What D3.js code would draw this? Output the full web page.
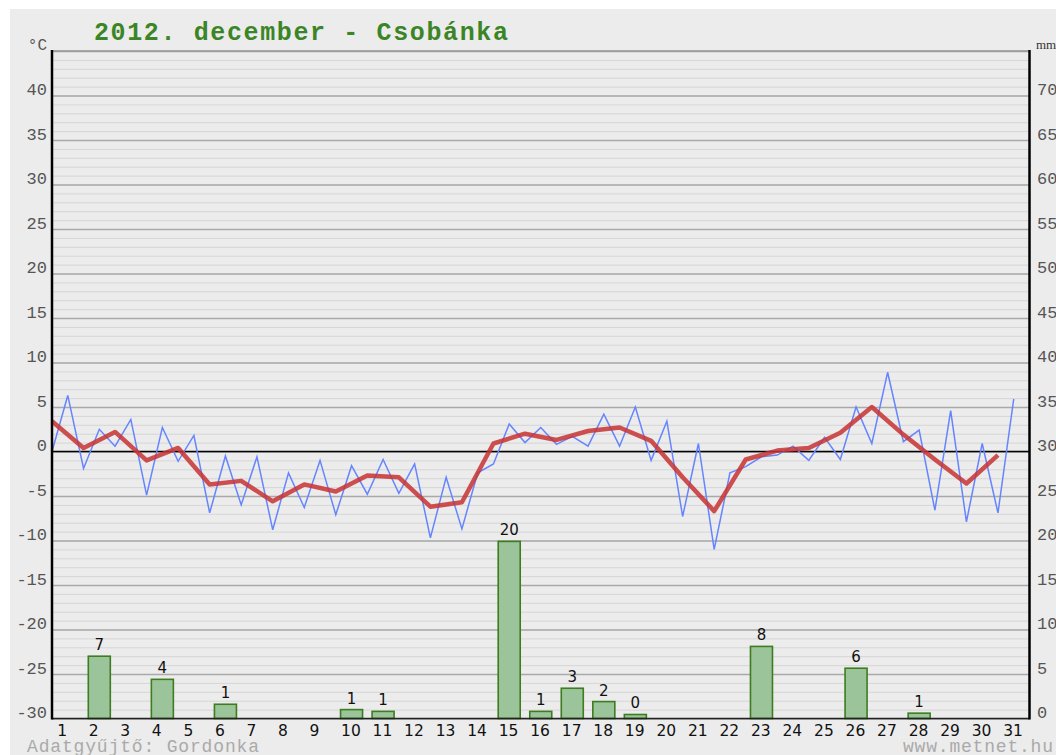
<!DOCTYPE html>
<html>
<head>
<meta charset="utf-8">
<script src="https://cdn.jsdelivr.net/npm/d3@7/dist/d3.min.js"></script>
<style>
  html, body { margin: 0; padding: 0; background: #fff; }
  svg { display: block; }
</style>
</head>
<body>
<svg id="chart" width="1056" height="755"></svg>
<script>
// day numbers
var days = d3.range(1, 32);

// two readings per day (blue line)
var readings = [
  0.0, 6.3, -1.9, 2.5, 0.6, 3.6, -4.9, 2.7, -1.1, 1.8,
  -6.9, -0.5, -6.0, -0.6, -8.8, -2.4, -6.3, -1.0, -7.1, -1.6,
  -4.8, -0.9, -4.7, -1.4, -9.7, -2.9, -8.7, -2.4, -1.4, 3.1,
  1.0, 2.7, 0.8, 1.7, 0.6, 4.2, 0.6, 5.0, -1.0, 3.4,
  -7.3, 0.9, -11.0, -2.4, -1.7, -0.6, -0.4, 0.6, -1.0, 1.6,
  -0.9, 5.0, 0.9, 8.9, 1.1, 2.4, -6.6, 4.6, -7.9, 0.9,
  -6.9, 5.9
];

// daily mean (red line)
var dailyMean = [
  3.4, 0.4, 2.2, -1.0, 0.4, -3.7, -3.3, -5.6, -3.7, -4.5,
  -2.7, -2.9, -6.2, -5.7, 0.9, 2.0, 1.3, 2.3, 2.7, 1.2,
  -2.9, -6.7, -0.9, 0.1, 0.4, 2.1, 5.0, 1.9, -0.9, -3.6,
  -0.4
];

// precipitation (mm)
var rainDays   = [2, 4, 6, 10, 11, 15, 16, 17, 18, 19, 23, 26, 28];
var rainMm     = [7.0, 4.4, 1.6, 1.0, 0.8, 19.9, 0.8, 3.4, 1.9, 0.45, 8.1, 5.65, 0.6];
var rainLabels = ['7', '4', '1', '1', '1', '20', '1', '3', '2', '0', '8', '6', '1'];

var tempTicks = d3.range(-30, 41, 5);
var mmTicks = d3.range(0, 71, 5);

(function() {

  var W = 1056, H = 755;
  var plotL = 52, plotR = 1029.5, plotT = 51, plotB = 718.5;

  var svg = d3.select('#chart');

  // panel
  svg.append('rect')
    .attr('x', 10).attr('y', 9)
    .attr('width', W - 10).attr('height', H - 9)
    .attr('fill', '#ececec');

  var x = d3.scaleLinear().domain([0, 31]).range([plotL, plotR]);
  var yT = d3.scaleLinear().domain([-30, 45]).range([plotB, plotT]);
  var yP = d3.scaleLinear().domain([0, 75]).range([plotB, plotT]);

  // minor grid, every degree
  svg.append('g')
    .attr('transform', 'translate(' + plotL + ',0)')
    .call(d3.axisLeft(yT).tickValues(d3.range(-30, 46, 1)).tickSize(-(plotR - plotL)).tickFormat(''))
    .call(function(g) {
      g.select('.domain').remove();
      g.selectAll('line').attr('stroke', '#d6d6d6').attr('stroke-width', 1);
    });

  // major grid, every 5 degrees
  svg.append('g')
    .attr('transform', 'translate(' + plotL + ',0)')
    .call(d3.axisLeft(yT).tickValues(d3.range(-30, 46, 5)).tickSize(-(plotR - plotL)).tickFormat(''))
    .call(function(g) {
      g.select('.domain').remove();
      g.selectAll('line').attr('stroke', '#a9a9a9').attr('stroke-width', 1.6);
    });

  // zero line
  svg.append('line')
    .attr('x1', plotL).attr('x2', plotR)
    .attr('y1', yT(0)).attr('y2', yT(0))
    .attr('stroke', '#000').attr('stroke-width', 1.6);

  // left temperature labels
  svg.append('g')
    .selectAll('text')
    .data(tempTicks)
    .join('text')
    .attr('x', 47)
    .attr('y', function(d) { return yT(d) - 0.5; })
    .attr('text-anchor', 'end')
    .attr('font-family', 'Liberation Mono, monospace')
    .attr('font-size', 17)
    .attr('fill', '#555')
    .text(function(d) { return d; });

  // right precipitation labels
  svg.append('g')
    .selectAll('text')
    .data(mmTicks)
    .join('text')
    .attr('x', 1037)
    .attr('y', function(d) { return yP(d) - 0.5; })
    .attr('font-family', 'Liberation Mono, monospace')
    .attr('font-size', 17)
    .attr('fill', '#555')
    .text(function(d) { return d; });

  // bars
  var bars = svg.append('g');
  bars.selectAll('rect')
    .data(rainDays)
    .join('rect')
    .attr('x', function(d) { return x(d - 0.5) - 11; })
    .attr('y', function(d, i) { return yP(rainMm[i]); })
    .attr('width', 22)
    .attr('height', function(d, i) { return plotB - yP(rainMm[i]); })
    .attr('fill', '#9bc49b')
    .attr('stroke', '#3d7d1f')
    .attr('stroke-width', 1.6);

  bars.selectAll('text')
    .data(rainDays)
    .join('text')
    .attr('x', function(d) { return x(d - 0.5); })
    .attr('y', function(d, i) { return yP(rainMm[i]) - 6; })
    .attr('text-anchor', 'middle')
    .attr('font-family', 'DejaVu Sans, sans-serif')
    .attr('font-size', 15)
    .attr('fill', '#111')
    .text(function(d, i) { return rainLabels[i]; });

  // readings line
  svg.append('path')
    .datum(readings)
    .attr('fill', 'none')
    .attr('stroke', '#6585ff')
    .attr('stroke-width', 1.5)
    .attr('d', d3.line()
      .x(function(d, i) { return x(i / 2); })
      .y(function(d) { return yT(d); }));

  // daily mean line
  svg.append('path')
    .datum(dailyMean)
    .attr('fill', 'none')
    .attr('stroke', '#c83232')
    .attr('stroke-opacity', 0.85)
    .attr('stroke-width', 4.5)
    .attr('stroke-linejoin', 'round')
    .attr('d', d3.line()
      .x(function(d, i) { return x(i); })
      .y(function(d) { return yT(d); }));

  // frame: top border, axes
  svg.append('line')
    .attr('x1', plotL).attr('x2', plotR)
    .attr('y1', plotT).attr('y2', plotT)
    .attr('stroke', '#999').attr('stroke-width', 1.5);
  svg.append('line')
    .attr('x1', plotL).attr('x2', plotR)
    .attr('y1', plotB).attr('y2', plotB)
    .attr('stroke', '#222').attr('stroke-width', 1.6);
  svg.append('line')
    .attr('x1', plotL).attr('x2', plotL)
    .attr('y1', plotT - 1).attr('y2', plotB + 1)
    .attr('stroke', '#000').attr('stroke-width', 2.5);
  svg.append('line')
    .attr('x1', plotR).attr('x2', plotR)
    .attr('y1', plotT - 1).attr('y2', plotB + 1)
    .attr('stroke', '#000').attr('stroke-width', 2.5);

  // day labels
  svg.append('g')
    .selectAll('text')
    .data(days)
    .join('text')
    .attr('x', function(d) { return x(d - 0.5) - 10.5; })
    .attr('y', 735.5)
    .attr('font-family', 'DejaVu Sans, sans-serif')
    .attr('font-size', 15.5)
    .attr('fill', '#111')
    .text(function(d) { return d; });

  // title and unit labels
  svg.append('text')
    .attr('x', 94).attr('y', 39.5)
    .attr('font-family', 'Liberation Mono, monospace')
    .attr('font-weight', 'bold')
    .attr('font-size', 25)
    .attr('fill', '#3b8526')
    .attr('textLength', 414)
    .attr('lengthAdjust', 'spacing')
    .text('2012. december - Csobánka');

  svg.append('text')
    .attr('x', 47).attr('y', 49.5)
    .attr('text-anchor', 'end')
    .attr('font-family', 'Liberation Mono, monospace')
    .attr('font-size', 16)
    .attr('fill', '#555')
    .text('°C');

  svg.append('text')
    .attr('x', 1036).attr('y', 48.5)
    .attr('font-family', 'Liberation Serif, serif')
    .attr('font-size', 13)
    .attr('fill', '#333')
    .text('mm');

  // footer
  svg.append('text')
    .attr('x', 27).attr('y', 751.5)
    .attr('font-family', 'Liberation Mono, monospace')
    .attr('font-size', 18)
    .attr('fill', '#aaa')
    .attr('textLength', 232)
    .attr('lengthAdjust', 'spacing')
    .text('Adatgyűjtő: Gordonka');

  svg.append('text')
    .attr('x', 903).attr('y', 751.5)
    .attr('font-family', 'Liberation Mono, monospace')
    .attr('font-size', 18)
    .attr('fill', '#aaa')
    .attr('textLength', 150)
    .attr('lengthAdjust', 'spacing')
    .text('www.metnet.hu');

})();
</script>
</body>
</html>
